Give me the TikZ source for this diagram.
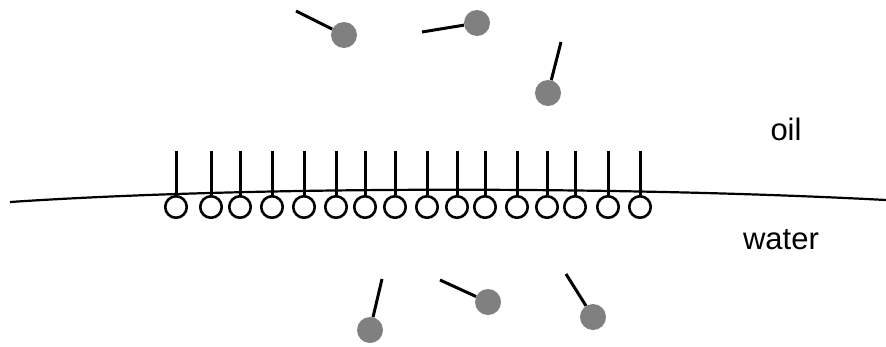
\documentclass[tikz,border=0pt]{standalone}
\usepackage{fontspec}
\setmainfont{Liberation Sans}
\usetikzlibrary{positioning}

\begin{document}
\begin{tikzpicture}[x=1pt, y=-1pt,
            % Styles
            head/.style={circle, draw=black, line width=2.6pt, fill=white, minimum size=21.5pt, inner sep=0pt},
            freehead/.style={circle, fill=black!50, minimum size=26pt, inner sep=0pt},
            tail/.style={draw, line width=3pt},
            interface/.style={draw, line width=2.2pt},
            phase/.style={anchor=base, font=\fontsize{31}{36}\selectfont}
        ]
        \useasboundingbox (0,0) rectangle (886,346);

        % Oil/water boundary
        \coordinate (left) at (10,202);
        \coordinate (right) at (886,200);
        \path [interface] (left) .. controls (250,186) and (620,186) .. (right);

        % Surfactant layer on the boundary
        \foreach \x [count=\i] in {176,211,240,272,304,336,365,395,427,457,485,517,547,575,608,640} {
            \node [head] (h\i) at (\x,207) {};
            \coordinate (t\i) at (\x,151);
            \path [tail] (t\i) -- (h\i);
        }

        % Free molecules in oil
        \node [freehead] (m1) at (344,35) {};
        \node [freehead] (m2) at (477,23) {};
        \node [freehead] (m3) at (548,93) {};
        \coordinate (e1) at (296,11);
        \coordinate (e2) at (422,32);
        \coordinate (e3) at (561,42);

        % Free molecules in water
        \node [freehead] (m4) at (370,330) {};
        \node [freehead] (m5) at (488,302) {};
        \node [freehead] (m6) at (593,317) {};
        \coordinate (e4) at (382,279);
        \coordinate (e5) at (440,280);
        \coordinate (e6) at (566,274);

        \foreach \i in {1,...,6}
            \path [tail] (e\i) -- (m\i);

        % Phase labels
        \node [phase] (oil) at (786,140) {oil};
        \node [phase] (water) at (781,249) {water};

    \end{tikzpicture}
\end{document}
